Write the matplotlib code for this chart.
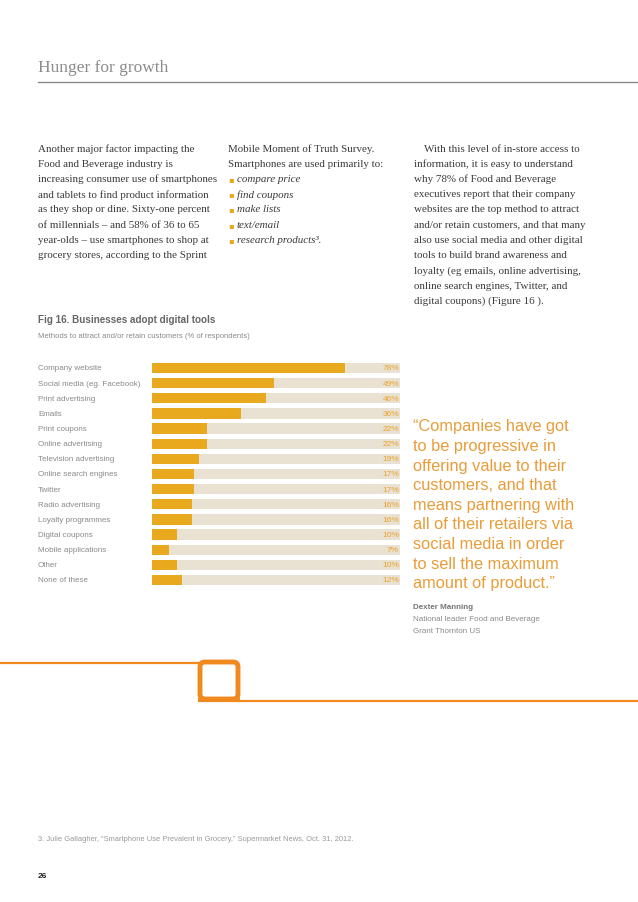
import matplotlib
matplotlib.use('Agg')
import matplotlib.pyplot as plt
from matplotlib.patches import FancyBboxPatch
from matplotlib import transforms

# data
categories = ['Company website', 'Social media (eg. Facebook)', 'Print advertising', 'Emails',
              'Print coupons', 'Online advertising', 'Television advertising',
              'Online search engines', 'Twitter', 'Radio advertising', 'Loyalty programmes',
              'Digital coupons', 'Mobile applications', 'Other', 'None of these']
values = [78, 49, 46, 36, 22, 22, 19, 17, 17, 16, 16, 10, 7, 10, 12]

col1 = ['Another major factor impacting the', 'Food and Beverage industry is',
        'increasing consumer use of smartphones', 'and tablets to find product information',
        'as they shop or dine. Sixty-one percent', 'of millennials \u2013 and 58% of 36 to 65',
        'year-olds \u2013 use smartphones to shop at', 'grocery stores, according to the Sprint']
col2_head = ['Mobile Moment of Truth Survey.', 'Smartphones are used primarily to:']
col2_bullets = ['compare price', 'find coupons', 'make lists', 'text/email',
                'research products\u00b3.']
col3 = ['With this level of in-store access to', 'information, it is easy to understand',
        'why 78% of Food and Beverage', 'executives report that their company',
        'websites are the top method to attract', 'and/or retain customers, and that many',
        'also use social media and other digital', 'tools to build brand awareness and',
        'loyalty (eg emails, online advertising,', 'online search engines, Twitter, and',
        'digital coupons) (Figure 16 ).']
quote = ['\u201cCompanies have got', 'to be progressive in', 'offering value to their',
         'customers, and that', 'means partnering with', 'all of their retailers via',
         'social media in order', 'to sell the maximum', 'amount of product.\u201d']

W, H = 638, 903
fig = plt.figure(figsize=(W / 100, H / 100), dpi=100)
bg = fig.add_axes([0, 0, 1, 1])
bg.set_xlim(0, W)
bg.set_ylim(H, 0)
bg.axis('off')

serif = ['Liberation Serif', 'DejaVu Serif']
narrow = ['Liberation Sans Narrow', 'Liberation Sans', 'DejaVu Sans']
body_c = '#3a3a3a'
gold = '#E8A91F'
track = '#E9E1D2'
orange = '#F0891E'

# header
bg.text(38, 68, 'Hunger for growth', fontsize=12.5, color='#8c8c8c', family=serif, va='center')
bg.plot([38, 638], [83, 83], color='#8a8a8a', lw=1)

# body columns
lh = 15.25
for i, s in enumerate(col1):
    bg.text(38, 149 + i * lh, s, fontsize=7.9, color=body_c, family=serif, va='center')
for i, s in enumerate(col2_head):
    bg.text(228, 149 + i * lh, s, fontsize=7.9, color=body_c, family=serif, va='center')
for i, s in enumerate(col2_bullets):
    y = 149 + (i + 2) * lh
    bg.text(228, y, '\u25aa', fontsize=6, color=gold, family='DejaVu Sans', va='center')
    bg.text(237, y, s, fontsize=7.9, color=body_c, family=serif, style='italic', va='center')
for i, s in enumerate(col3):
    bg.text(424 if i == 0 else 414, 149 + i * lh, s, fontsize=7.9, color=body_c,
            family=serif, va='center')

# figure title
bg.text(38, 320, 'Fig 16. Businesses adopt digital tools', fontsize=7.1, color='#666666',
        family=['Liberation Sans', 'DejaVu Sans'], weight='bold', va='center')
bg.text(38, 337, 'Methods to attract and/or retain customers (% of respondents)', fontsize=5.5,
        color='#8a8a8a', family=narrow, va='center')

# bar chart
n = len(categories)
row = 15.14
top = 369 - row / 2
ax = fig.add_axes([152 / W, 1 - (top + n * row) / H, (400 - 152) / W, n * row / H])
pos = list(range(n))
ax.barh(pos, [100] * n, height=0.68, color=track, edgecolor='none')
ax.barh(pos, values, height=0.68, color=gold, edgecolor='none')
ax.set_xlim(0, 100)
ax.set_ylim(n - 0.5, -0.5)
ax.axis('off')
tr = transforms.blended_transform_factory(bg.transData, ax.transData)
for i, (c, v) in enumerate(zip(categories, values)):
    ax.text(38, i, c, transform=tr, fontsize=5.8, color='#8a8a8a', family=narrow,
            va='center', ha='left')
    ax.text(99.6, i, f'{v}%', fontsize=6, color='#EBA32A', family=narrow, va='center', ha='right')

# quote
for i, s in enumerate(quote):
    bg.text(413, 427 + i * 19.6, s, fontsize=11.8, color='#E99C38', family=narrow, va='center')
bg.text(413, 608, 'Dexter Manning', fontsize=5.8, color='#777777', weight='bold',
        family=['Liberation Sans', 'DejaVu Sans'], va='center')
bg.text(413, 620, 'National leader Food and Beverage', fontsize=5.8, color='#8a8a8a',
        family=narrow, va='center')
bg.text(413, 632, 'Grant Thornton US', fontsize=5.8, color='#8a8a8a', family=narrow, va='center')

# orange connector shape
bg.plot([0, 200], [664, 664], color=orange, lw=1.6, solid_capstyle='butt')
bg.add_patch(FancyBboxPatch((200, 663), 38, 37, boxstyle='round,pad=0,rounding_size=5',
                            facecolor='none', edgecolor=orange, lw=3.5))
bg.plot([198, 240], [701, 701], color=orange, lw=3, solid_capstyle='butt')
bg.plot([238, 638], [702, 702], color=orange, lw=1.6, solid_capstyle='butt')

# footnote and page number
bg.text(38, 840, '3. Julie Gallagher, \u201cSmartphone Use Prevalent in Grocery,\u201d Supermarket News, Oct. 31, 2012.',
        fontsize=5.4, color='#999999', family=narrow, va='center')
bg.text(38, 877, '26', fontsize=6, color='#222222', weight='bold',
        family=['Liberation Sans', 'DejaVu Sans'], va='center')

fig.savefig('out.png', dpi=100, facecolor='white')
